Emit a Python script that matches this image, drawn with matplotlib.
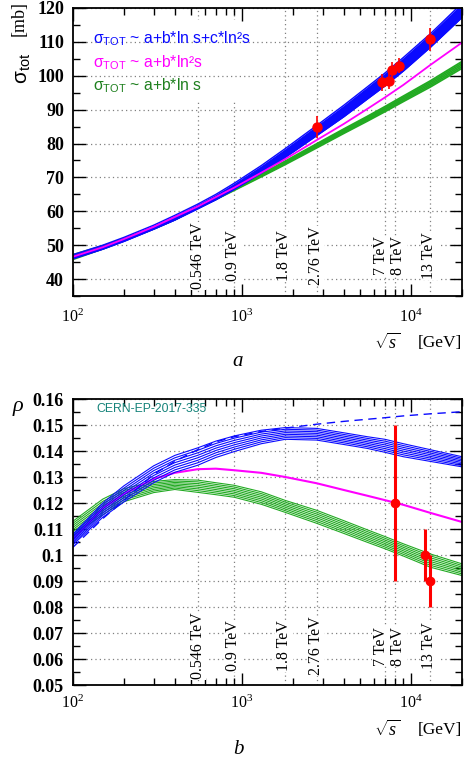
import numpy as np
import matplotlib
matplotlib.use('Agg')
import matplotlib.pyplot as plt
from matplotlib.ticker import MultipleLocator, LogLocator, NullFormatter
from matplotlib.patches import Rectangle

plt.rcParams['mathtext.fontset'] = 'custom'
plt.rcParams['mathtext.rm'] = 'Liberation Serif'
plt.rcParams['mathtext.it'] = 'Liberation Serif:italic'
plt.rcParams['mathtext.bf'] = 'Liberation Serif:bold'
plt.rcParams['mathtext.sf'] = 'Liberation Sans'

sqrt_s = np.array([100, 150, 200, 300, 400, 546, 700, 900, 1300, 1800,
                   2760, 4000, 5500, 7000, 9000, 13000, 20000])

# (a) sigma_tot [mb]
sig_blue_hi = np.array([47.2, 50.0, 52.3, 55.9, 58.8, 62.1, 65.0, 68.3, 73.5, 78.5,
                        85.3, 91.3, 96.7, 100.8, 105.4, 112.4, 121.4])
sig_blue_lo = np.array([46.0, 48.8, 51.1, 54.7, 57.4, 60.7, 63.4, 66.5, 71.3, 75.9,
                        82.3, 87.9, 93.1, 97.0, 101.4, 108.4, 117.2])
sig_magenta = np.array([46.6, 49.4, 51.8, 55.4, 58.3, 61.4, 64.2, 67.0, 71.4, 75.4,
                        81.0, 85.8, 90.2, 93.6, 97.3, 103.2, 109.8])
sig_green_hi = np.array([47.2, 49.8, 51.9, 55.2, 57.8, 61.3, 64.0, 66.8, 71.0, 74.8,
                         79.9, 84.3, 88.0, 90.9, 94.0, 98.5, 104.2])
sig_green_lo = np.array([45.8, 48.9, 51.3, 54.8, 57.5, 61.0, 63.5, 66.2, 70.2, 73.8,
                         78.7, 83.0, 86.6, 89.4, 92.4, 96.7, 102.2])

sig_data_x = [2760, 6700, 7400, 7700, 8500, 13000]
sig_data_y = [84.8, 98.1, 98.6, 101.7, 103.0, 110.8]
sig_data_err = [3.2, 2.5, 2.5, 2.3, 2.3, 3.4]

# (b) rho
rho_blue_hi = np.array([0.108, 0.120, 0.1266, 0.1343, 0.1383, 0.1412, 0.1438, 0.1458, 0.1480, 0.1490,
                        0.1487, 0.147, 0.1455, 0.1445, 0.1428, 0.1405, 0.1378])
rho_blue_lo = np.array([0.104, 0.1145, 0.1204, 0.1278, 0.1318, 0.1345, 0.1375, 0.1398, 0.1428, 0.1445,
                        0.1442, 0.1425, 0.141, 0.1395, 0.1378, 0.136, 0.1339])
rho_blue_dash = np.array([0.103, 0.114, 0.121, 0.131, 0.136, 0.1405, 0.1435, 0.1455, 0.1475, 0.1488,
                          0.1503, 0.1514, 0.1522, 0.1528, 0.1535, 0.1543, 0.1551])
rho_magenta = np.array([0.106, 0.118, 0.1235, 0.1293, 0.1316, 0.133, 0.1332, 0.1326, 0.1316, 0.130,
                        0.1276, 0.125, 0.1228, 0.1211, 0.1193, 0.1162, 0.1127])
rho_green_hi = np.array([0.113, 0.1215, 0.1255, 0.1283, 0.129, 0.1288, 0.1278, 0.1268, 0.1243, 0.121,
                         0.1172, 0.1132, 0.1097, 0.1071, 0.1043, 0.1004, 0.0966])
rho_green_lo = np.array([0.1075, 0.1155, 0.1205, 0.124, 0.1252, 0.1241, 0.1232, 0.1222, 0.1195, 0.1164,
                         0.1122, 0.1083, 0.1049, 0.1024, 0.0996, 0.0953, 0.0921])

rho_data_x = [8000, 12100, 13000]
rho_data_y = [0.12, 0.10, 0.09]
rho_data_err = [0.03, 0.01, 0.01]

energies = [546, 900, 1800, 2760, 7000, 8000, 13000]
energy_labels = ['0.546 TeV', '0.9 TeV', '1.8 TeV', '2.76 TeV', '7 TeV', '8 TeV', '13 TeV']
label_shift = [0, -1, -1, -1, -4, 3, -1]  # pixels, to keep 7/8 TeV apart

xtick_vals = [100, 1000, 10000]
xtick_labels = [r'$10^{2}$', r'$10^{3}$', r'$10^{4}$']

legend_texts = [r'σ$_{\mathsf{TOT}}$ ~ a+b*ln s+c*ln²s',
                r'σ$_{\mathsf{TOT}}$ ~ a+b*ln²s',
                r'σ$_{\mathsf{TOT}}$ ~ a+b*ln s']

BLUE = '#0a0aff'
MAGENTA = '#ff00ff'
GREEN = '#22aa22'
GRID = '#808080'

W, H = 465, 758
fig = plt.figure(figsize=(W / 100, H / 100), dpi=100)
ax1 = fig.add_axes([73 / W, 1 - 296 / H, 389 / W, 288 / H])
ax2 = fig.add_axes([73 / W, 1 - 685 / H, 389 / W, 286 / H])


def style_axis(ax, xpad):
    ax.set_xscale('log')
    ax.set_xlim(100, 20000)
    ax.set_xticks(xtick_vals, labels=xtick_labels)
    ax.xaxis.set_minor_locator(LogLocator(base=10, subs=np.arange(2, 10)))
    ax.xaxis.set_minor_formatter(NullFormatter())
    ax.tick_params(which='both', direction='in', top=True, right=True, width=1)
    ax.tick_params(which='major', length=9)
    ax.tick_params(which='minor', length=5)
    ax.tick_params(axis='x', pad=xpad, labelsize=11.5)
    ax.tick_params(axis='y', pad=6.5, labelsize=13)
    for lab in ax.get_yticklabels():
        lab.set_fontfamily('Liberation Serif')
        lab.set_fontweight('bold')
    for sp in ax.spines.values():
        sp.set_linewidth(1.3)
    ax.yaxis.grid(True, which='major', linestyle=(0, (1, 2.5)), color=GRID, lw=0.9, zorder=0)
    for e in energies:
        ax.axvline(e, linestyle=(0, (1, 2.5)), color=GRID, lw=0.9, zorder=0.5)


def energy_text(ax, yfrac):
    for e, lab, dx in zip(energies, energy_labels, label_shift):
        ax.annotate(lab, xy=(e, yfrac), xycoords=('data', 'axes fraction'),
                    xytext=(dx, 0), textcoords='offset pixels', rotation=90,
                    ha='center', va='center', fontsize=11.5, family='Liberation Serif',
                    bbox=dict(boxstyle='square,pad=0.05', fc='white', ec='none'), zorder=3)


# ---- panel a ----
ax1.set_ylim(35, 120)
ax1.yaxis.set_major_locator(MultipleLocator(10))
ax1.yaxis.set_minor_locator(MultipleLocator(5))
style_axis(ax1, 8.5)

for k in np.linspace(0, 1, 5):
    ax1.plot(sqrt_s, sig_green_lo + k * (sig_green_hi - sig_green_lo), color=GREEN, lw=1.3, zorder=2)
ax1.fill_between(sqrt_s, sig_blue_lo, sig_blue_hi, color=BLUE, lw=0, zorder=2.1)
ax1.plot(sqrt_s, sig_blue_lo, color=BLUE, lw=1, zorder=2.1)
ax1.plot(sqrt_s, sig_blue_hi, color=BLUE, lw=1, zorder=2.1)
ax1.plot(sqrt_s, sig_magenta, color=MAGENTA, lw=1.3, zorder=2.2)
ax1.errorbar(sig_data_x, sig_data_y, yerr=sig_data_err, fmt='o', color='red',
             ms=6.5, elinewidth=1.2, capsize=0, zorder=4)

ax1.add_patch(Rectangle((0, 0.68), 0.50, 0.28, transform=ax1.transAxes,
                        fc='white', ec='none', zorder=1))
for i, (txt, c) in enumerate(zip(legend_texts, [BLUE, MAGENTA, '#1f801f'])):
    ax1.text(0.051, 0.892 - i * 0.081, txt, transform=ax1.transAxes, color=c,
             fontsize=11.3, family='Liberation Sans', va='center', ha='left', zorder=3)
energy_text(ax1, 0.139)

# ---- panel b ----
ax2.set_ylim(0.05, 0.16)
ax2.yaxis.set_major_locator(MultipleLocator(0.01))
ax2.yaxis.set_minor_locator(MultipleLocator(0.005))
ax2.set_yticks(np.arange(0.05, 0.1601, 0.01),
               labels=['0.05', '0.06', '0.07', '0.08', '0.09', '0.1', '0.11',
                       '0.12', '0.13', '0.14', '0.15', '0.16'])
style_axis(ax2, 6)

for k in np.linspace(0, 1, 8):
    ax2.plot(sqrt_s, rho_green_lo + k * (rho_green_hi - rho_green_lo), color=GREEN, lw=0.8, zorder=2)
for k in np.linspace(0, 1, 8):
    ax2.plot(sqrt_s, rho_blue_lo + k * (rho_blue_hi - rho_blue_lo), color=BLUE, lw=0.8, zorder=2.1)
ax2.plot(sqrt_s, rho_blue_dash, color=BLUE, lw=1, linestyle=(0, (6, 4)), zorder=2.2)
ax2.plot(sqrt_s, rho_magenta, color=MAGENTA, lw=1.5, zorder=2.05)
ax2.errorbar(rho_data_x, rho_data_y, yerr=rho_data_err, fmt='o', color='red',
             ms=6, elinewidth=2.2, capsize=0, zorder=4)

ax2.text(0.061, 0.965, 'CERN-EP-2017-335', transform=ax2.transAxes, color='#15837a',
         fontsize=8.8, family='Liberation Sans', va='center', ha='left', zorder=3)
energy_text(ax2, 0.136)

# ---- axis titles, panel letters ----
fig.text(19 / W, 1 - 18 / H, '[mb]', rotation=90, ha='center', va='center',
         fontsize=13, family='Liberation Serif')
fig.text(22 / W, 1 - 68 / H, r'σ$_{\mathsf{tot}}$', rotation=90, ha='center', va='center',
         fontsize=15, family='Liberation Sans')
fig.text(18 / W, 1 - 408 / H, r'$\rho$', ha='center', va='center', fontsize=16)
for yy in (343, 730):
    fig.text(387 / W, 1 - yy / H, r'$\sqrt{s}$', ha='center', va='center', fontsize=13)
    fig.text(440 / W, 1 - yy / H, '[GeV]', ha='center', va='center', fontsize=12.5,
             family='Liberation Serif')
fig.text(238 / W, 1 - 361 / H, 'a', ha='center', va='center', fontsize=15,
         family='Liberation Serif', style='italic')
fig.text(238 / W, 1 - 749 / H, 'b', ha='center', va='center', fontsize=15,
         family='Liberation Serif', style='italic')

plt.savefig('out.png', dpi=100)
